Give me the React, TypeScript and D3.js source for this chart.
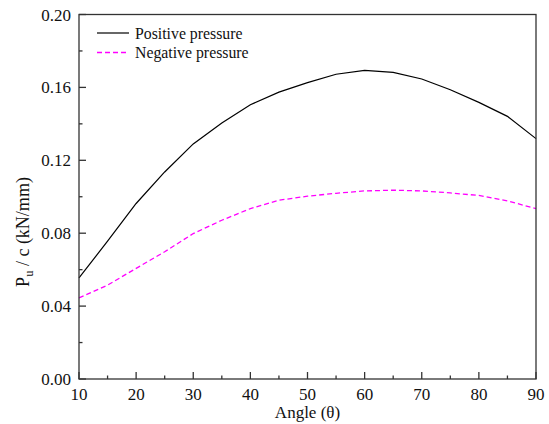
import React from "react";
import * as d3 from "d3";

const angles = [10, 15, 20, 25, 30, 35, 40, 45, 50, 55, 60, 65, 70, 75, 80, 85, 90];
const positive = [0.0555, 0.0756, 0.0963, 0.1136, 0.129, 0.1405, 0.1505, 0.1574, 0.1626, 0.1672, 0.1693, 0.1682, 0.1646, 0.1587, 0.1518, 0.1441, 0.1319];
const negative = [0.0445, 0.0515, 0.0607, 0.0698, 0.0798, 0.0871, 0.0935, 0.0981, 0.1003, 0.1019, 0.1032, 0.1036, 0.1032, 0.1021, 0.1007, 0.0977, 0.0935];
const xTicks = [10, 20, 30, 40, 50, 60, 70, 80, 90];
const xMinor = [15, 25, 35, 45, 55, 65, 75, 85];
const yTicks = [0, 0.04, 0.08, 0.12, 0.16, 0.2];
const yMinor = [0.02, 0.06, 0.1, 0.14, 0.18];
const seriesNames = ["Positive pressure", "Negative pressure"];

const W = 549, H = 424;
const L = 79, R = 536, T = 14.5, B = 379;
const font = "'Liberation Serif', 'Times New Roman', serif";

export default function App() {
  const x = d3.scaleLinear().domain([10, 90]).range([L, R]);
  const y = d3.scaleLinear().domain([0, 0.2]).range([B, T]);
  const line = d3.line<number>().x((_, i) => x(angles[i])).y((d) => y(d));
  const axisColor = "#333";
  return (
    <svg width={W} height={H} style={{ position: "absolute", left: 0, top: 0, background: "#fff" }}>
      <rect x={0} y={0} width={W} height={H} fill="#fff" />
      <path d={line(negative) || ""} fill="none" stroke="#ff00ff" strokeWidth={1.3} strokeDasharray="5,3" />
      <path d={line(positive) || ""} fill="none" stroke="#000" strokeWidth={1.2} />
      <rect x={L} y={T} width={R - L} height={B - T} fill="none" stroke={axisColor} strokeWidth={1.3} />
      {xTicks.map((t) => (
        <g key={"x" + t}>
          <line x1={x(t)} x2={x(t)} y1={B} y2={B - 7} stroke={axisColor} strokeWidth={1.3} />
          <text x={x(t)} y={400} textAnchor="middle" fontFamily={font} fontSize={17} fill="#111">{t}</text>
        </g>
      ))}
      {xMinor.map((t) => (
        <line key={"xm" + t} x1={x(t)} x2={x(t)} y1={B} y2={B - 3.5} stroke={axisColor} strokeWidth={1.3} />
      ))}
      {yTicks.map((t) => (
        <g key={"y" + t}>
          <line x1={L} x2={L + 7} y1={y(t)} y2={y(t)} stroke={axisColor} strokeWidth={1.3} />
          <text x={71} y={y(t) + 6} textAnchor="end" fontFamily={font} fontSize={17} fill="#111">{t.toFixed(2)}</text>
        </g>
      ))}
      {yMinor.map((t) => (
        <line key={"ym" + t} x1={L} x2={L + 3.5} y1={y(t)} y2={y(t)} stroke={axisColor} strokeWidth={1.3} />
      ))}
      <text x={(L + R) / 2} y={418} textAnchor="middle" fontFamily={font} fontSize={17} fill="#111">Angle (θ)</text>
      <text transform={`translate(29, 232) rotate(-90)`} textAnchor="middle" fontFamily={font} fontSize={18} fill="#111">
        P<tspan fontSize={12.5} dy={4}>u</tspan><tspan dy={-4}> / c (kN/mm)</tspan>
      </text>
      <g>
        <line x1={97} x2={129} y1={33} y2={33} stroke="#000" strokeWidth={1.2} />
        <text x={135} y={38.5} fontFamily={font} fontSize={15.8} fill="#111">{seriesNames[0]}</text>
        <line x1={97} x2={129} y1={52.5} y2={52.5} stroke="#ff00ff" strokeWidth={1.3} strokeDasharray="5,3" />
        <text x={135} y={57.5} fontFamily={font} fontSize={15.8} fill="#111">{seriesNames[1]}</text>
      </g>
    </svg>
  );
}
